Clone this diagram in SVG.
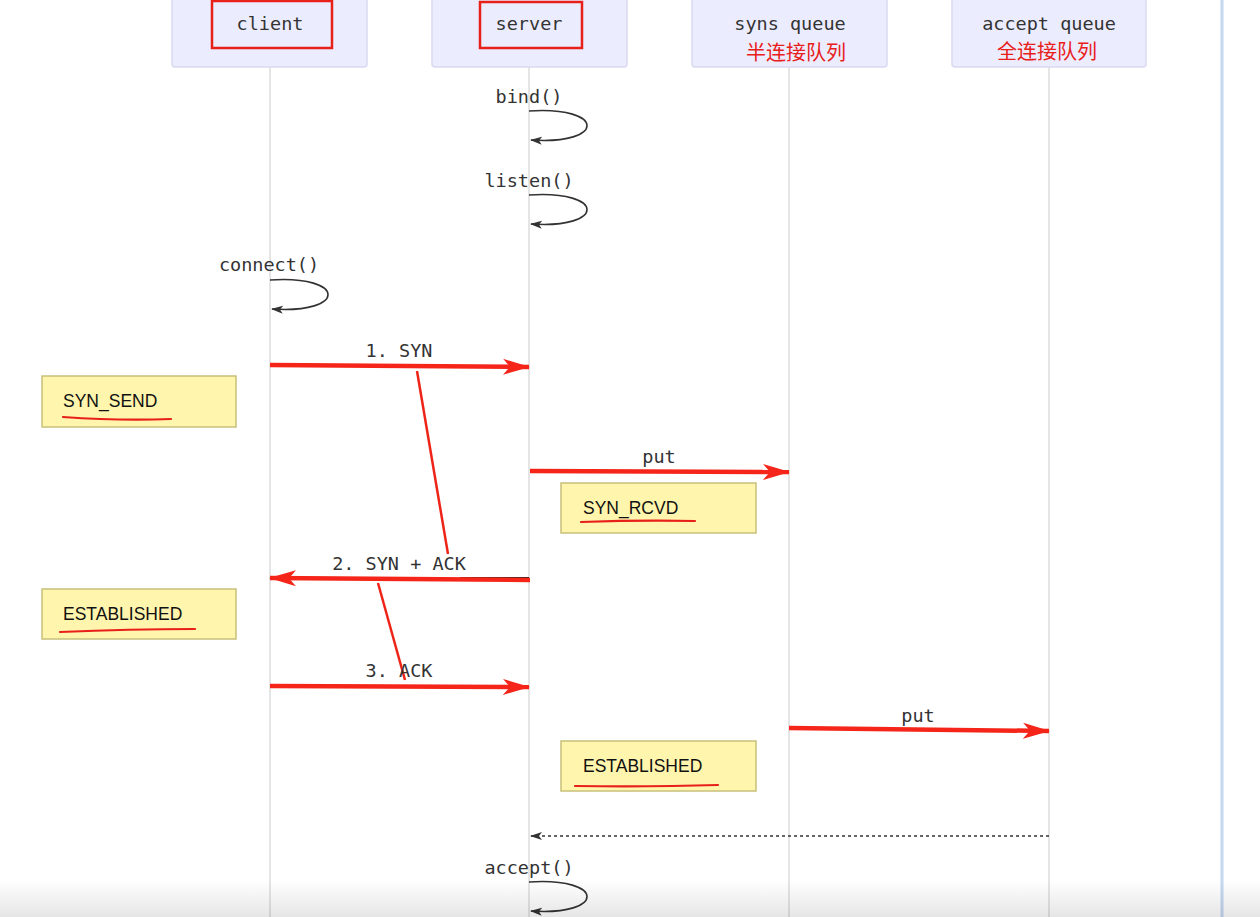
<svg xmlns="http://www.w3.org/2000/svg" width="1260" height="917" viewBox="0 0 1260 917">
<style>
.actor{fill:#ececff;stroke:#d9d9f2;stroke-width:1.5}
.hl{fill:none;stroke:#e8201a;stroke-width:2.5}
.life{stroke:#dcdcdc;stroke-width:1.5}
.mono{font-family:"DejaVu Sans Mono","Liberation Mono",monospace;font-size:18.5px;fill:#333;text-anchor:middle}
.cjk{font-family:"Noto Sans CJK SC",sans-serif;font-size:20px;fill:#e8201a;text-anchor:middle}
.note{fill:#fff5ad;stroke:#c8c07a;stroke-width:1.5}
.ntxt{font-family:"Liberation Sans",Arial,sans-serif;font-size:17.5px;fill:#111}
.ul{fill:none;stroke:#e8201a;stroke-width:2.2;stroke-linecap:round}
.msg{fill:none;stroke:#f5251a;stroke-width:4.5}
.slash{stroke:#ee2418;stroke-width:2.5}
.loop{fill:none;stroke:#333;stroke-width:1.6}
</style>
<defs>
<marker id="ra" markerUnits="userSpaceOnUse" markerWidth="28" markerHeight="20" refX="26" refY="10" orient="auto">
<path d="M0,2 L27,10 L0,18 L7,10 z" fill="#f5251a"/>
</marker>
<marker id="ba" markerUnits="userSpaceOnUse" markerWidth="12" markerHeight="10" refX="11" refY="5" orient="auto">
<path d="M0,1 L12,5 L0,9 L3,5 z" fill="#333"/>
</marker>
<linearGradient id="bot" x1="0" y1="0" x2="0" y2="1">
<stop offset="0" stop-color="#000" stop-opacity="0"/>
<stop offset="1" stop-color="#000" stop-opacity="0.1"/>
</linearGradient>
</defs>
<rect width="1260" height="917" fill="#fff"/>
<line x1="1222" y1="0" x2="1222" y2="917" stroke="#c4d8f2" stroke-width="3"/>
<g id="lifelines">
<line class="life" x1="270" y1="67" x2="270" y2="917"/>
<line class="life" x1="529" y1="67" x2="529" y2="917"/>
<line class="life" x1="789" y1="67" x2="789" y2="917"/>
<line class="life" x1="1049" y1="67" x2="1049" y2="917"/>
</g>
<g id="client">
<rect class="actor" x="172" y="-8" width="195" height="75" rx="3"/>
<rect class="hl" x="212" y="1" width="120" height="47"/>
<text class="mono" x="270" y="30">client</text>
</g>
<g id="server">
<rect class="actor" x="432" y="-8" width="195" height="75" rx="3"/>
<rect class="hl" x="480" y="2" width="102" height="46"/>
<text class="mono" x="529" y="30">server</text>
</g>
<g id="syns">
<rect class="actor" x="692" y="-8" width="195" height="75" rx="3"/>
<text class="mono" x="790" y="30">syns queue</text>
<text class="cjk" x="796" y="60">半连接队列</text>
</g>
<g id="accept">
<rect class="actor" x="952" y="-8" width="194" height="75" rx="3"/>
<text class="mono" x="1049" y="30">accept queue</text>
<text class="cjk" x="1047" y="59">全连接队列</text>
</g>
<g id="note-syn-send">
<rect class="note" x="42" y="376" width="194" height="51"/>
<text class="ntxt" x="63" y="407">SYN_SEND</text>
<path class="ul" d="M63,417 Q120,421 171,419"/>
</g>
<g id="note-est-client">
<rect class="note" x="42" y="589" width="194" height="50"/>
<text class="ntxt" x="63" y="620">ESTABLISHED</text>
<path class="ul" d="M60,632 Q130,629 195,629"/>
</g>
<g id="note-syn-rcvd">
<rect class="note" x="561" y="483" width="195" height="50"/>
<text class="ntxt" x="583" y="514">SYN_RCVD</text>
<path class="ul" d="M581,522 Q640,520 695,521"/>
</g>
<g id="note-est-server">
<rect class="note" x="561" y="741" width="195" height="50"/>
<text class="ntxt" x="583" y="772">ESTABLISHED</text>
<path class="ul" d="M575,786 Q650,787 718,785"/>
</g>
<g id="connectors">
<text class="mono" x="529" y="103">bind()</text>
<path class="loop" d="M529,111 C606,106 606,145 531,140" marker-end="url(#ba)"/>
<text class="mono" x="529" y="187">listen()</text>
<path class="loop" d="M529,195 C606,190 606,229 531,224" marker-end="url(#ba)"/>
<text class="mono" x="269" y="271">connect()</text>
<path class="loop" d="M270,280 C347,275 347,314 272,309" marker-end="url(#ba)"/>
<text class="mono" x="399" y="357">1. SYN</text>
<line class="msg" x1="270" y1="365" x2="529" y2="367" marker-end="url(#ra)"/>
<line class="slash" x1="417" y1="371" x2="448" y2="554"/>
<text class="mono" x="399" y="570">2. SYN + ACK</text>
<line x1="460" y1="577.5" x2="529" y2="577.5" stroke="#222" stroke-width="1.2"/>
<line class="msg" x1="530" y1="580" x2="270" y2="578" marker-end="url(#ra)"/>
<line class="slash" x1="378" y1="583" x2="405" y2="680"/>
<text class="mono" x="659" y="463">put</text>
<line class="msg" x1="530" y1="471" x2="789" y2="472" marker-end="url(#ra)"/>
<text class="mono" x="399" y="677">3. ACK</text>
<line class="msg" x1="270" y1="686" x2="529" y2="687" marker-end="url(#ra)"/>
<text class="mono" x="918" y="722">put</text>
<line class="msg" x1="789" y1="728" x2="1049" y2="731" marker-end="url(#ra)"/>
<line x1="1049" y1="836" x2="531" y2="836" stroke="#333" stroke-width="1.5" stroke-dasharray="3,3" marker-end="url(#ba)"/>
<text class="mono" x="529" y="874">accept()</text>
<path class="loop" d="M529,882 C606,877 606,916 531,911" marker-end="url(#ba)"/>
</g>
<rect x="0" y="880" width="1260" height="37" fill="url(#bot)"/>
</svg>
